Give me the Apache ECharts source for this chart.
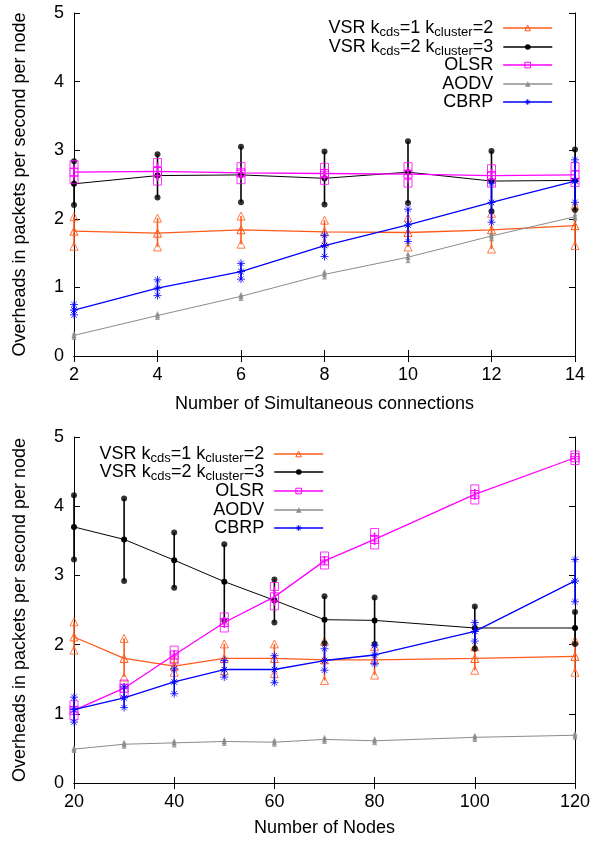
<!DOCTYPE html>
<html><head><meta charset="utf-8">
<script src="https://cdn.jsdelivr.net/npm/echarts@6/dist/echarts.min.js"></script>
<style>html,body{margin:0;padding:0;background:#fff}#c{width:595px;height:842px}</style>
</head><body><div id="c"></div>
<script>
// ---------- Data ----------
const topX = [2, 4, 6, 8, 10, 12, 14];
const topVsr1   = [1.82, 1.79, 1.84, 1.81, 1.80, 1.84, 1.90];
const topVsr1Lo = [1.60, 1.59, 1.63, 1.65, 1.59, 1.56, 1.61];
const topVsr1Hi = [2.03, 2.01, 2.04, 1.98, 2.02, 2.08, 2.19];
const topVsr2   = [2.51, 2.63, 2.64, 2.59, 2.68, 2.55, 2.56];
const topVsr2Lo = [2.20, 2.31, 2.24, 2.21, 2.23, 2.11, 2.13];
const topVsr2Hi = [2.84, 2.94, 3.05, 2.98, 3.13, 2.99, 3.01];
const topOlsr   = [2.68, 2.69, 2.67, 2.66, 2.65, 2.63, 2.64];
const topOlsrLo = [2.57, 2.55, 2.57, 2.56, 2.52, 2.52, 2.53];
const topOlsrHi = [2.79, 2.82, 2.76, 2.75, 2.76, 2.73, 2.76];
const topAodv   = [0.30, 0.59, 0.87, 1.19, 1.44, 1.75, 2.03];
const topAodvLo = [0.27, 0.56, 0.84, 1.15, 1.39, 1.71, 2.00];
const topAodvHi = [0.33, 0.62, 0.90, 1.23, 1.49, 1.79, 2.07];
const topCbrp   = [0.67, 0.99, 1.23, 1.61, 1.91, 2.24, 2.55];
const topCbrpLo = [0.60, 0.88, 1.12, 1.45, 1.67, 1.95, 2.24];
const topCbrpHi = [0.75, 1.11, 1.35, 1.76, 2.14, 2.52, 2.86];

const botX = [20, 30, 40, 50, 60, 70, 80, 100, 120];
const botVsr1   = [2.11, 1.80, 1.69, 1.80, 1.80, 1.78, 1.78, 1.80, 1.83];
const botVsr1Lo = [1.92, 1.53, 1.60, 1.62, 1.58, 1.48, 1.56, 1.63, 1.60];
const botVsr1Hi = [2.33, 2.09, 1.80, 2.01, 2.01, 2.05, 1.97, 1.97, 2.06];
const botVsr2   = [3.70, 3.52, 3.22, 2.91, 2.64, 2.36, 2.35, 2.24, 2.24];
const botVsr2Lo = [3.23, 2.92, 2.82, 2.35, 2.32, 2.02, 2.01, 1.94, 2.01];
const botVsr2Hi = [4.16, 4.11, 3.62, 3.45, 2.94, 2.70, 2.68, 2.55, 2.47];
const botOlsr   = [1.05, 1.37, 1.85, 2.32, 2.69, 3.21, 3.52, 4.17, 4.70];
const botOlsrLo = [0.97, 1.31, 1.78, 2.24, 2.56, 3.15, 3.44, 4.09, 4.66];
const botOlsrHi = [1.13, 1.43, 1.92, 2.40, 2.84, 3.28, 3.62, 4.25, 4.74];
const botAodv   = [0.49, 0.56, 0.58, 0.60, 0.59, 0.63, 0.61, 0.66, 0.69];
const botAodvLo = [0.47, 0.53, 0.55, 0.57, 0.56, 0.60, 0.58, 0.63, 0.66];
const botAodvHi = [0.51, 0.59, 0.61, 0.63, 0.62, 0.66, 0.64, 0.69, 0.72];
const botCbrp   = [1.06, 1.23, 1.46, 1.64, 1.64, 1.77, 1.85, 2.19, 2.92];
const botCbrpLo = [0.88, 1.09, 1.29, 1.53, 1.45, 1.63, 1.72, 2.05, 2.62];
const botCbrpHi = [1.24, 1.39, 1.65, 1.77, 1.84, 1.94, 1.99, 2.32, 3.23];

const seriesNames = ['VSR1', 'VSR2', 'OLSR', 'AODV', 'CBRP'];
const topXTicks = { min: 2, max: 14, interval: 2 };
const botXTicks = { min: 20, max: 120, interval: 20 };
const yTicks = { min: 0, max: 5, interval: 1 };
const xTitleTop = 'Number of Simultaneous connections';
const xTitleBot = 'Number of Nodes';
const yTitle = 'Overheads in packets per second per node';

// ---------- Styles ----------
const FONT = 'Liberation Sans, Arial, sans-serif';
const ASTER = 'path://M5,0L5,10M0,5L10,5M1.6,1.6L8.4,8.4M1.6,8.4L8.4,1.6';
const OTRI = 'path://M5,0L10,9L0,9Z';
const OSQR = 'path://M0,0L10,0L10,10L0,10Z';
const styles = {
  VSR1: { color: '#ff5a1a', symbol: OTRI, size: 8, lw: 1.3, hollow: true },
  VSR2: { color: '#000000', symbol: 'circle', size: 6, lw: 1, hollow: false },
  OLSR: { color: '#ff00ff', symbol: OSQR, size: 8, lw: 1.3, hollow: true },
  AODV: { color: '#8c8c8c', symbol: 'triangle', size: 5, lw: 1, hollow: false },
  CBRP: { color: '#0000ff', symbol: ASTER, size: 8, lw: 1.3, hollow: true }
};

function symStyleOf(st) {
  return {
    color: st.hollow ? 'rgba(255,255,255,0)' : st.color,
    borderColor: st.color,
    borderWidth: st.hollow ? 1 : 0
  };
}

function buildSeries(xs, groups, xi, yi) {
  const out = [];
  seriesNames.forEach((name, k) => {
    const st = styles[name];
    const [v, lo, hi] = groups[k];
    const symStyle = symStyleOf(st);
    out.push({
      type: 'custom', name: name + '_err', xAxisIndex: xi, yAxisIndex: yi, silent: true,
      data: xs.map((x, i) => [x, lo[i], hi[i]]),
      encode: { x: 0, y: [1, 2] },
      renderItem: (params, api) => {
        const p1 = api.coord([api.value(0), api.value(1)]);
        const p2 = api.coord([api.value(0), api.value(2)]);
        return { type: 'line', shape: { x1: p1[0], y1: p1[1], x2: p2[0], y2: p2[1] },
                 style: { stroke: st.color, lineWidth: 1.6 } };
      }, z: 2 + k
    });
    out.push({
      type: 'scatter', name: name + '_ends', xAxisIndex: xi, yAxisIndex: yi, silent: true,
      data: xs.map((x, i) => [x, lo[i]]).concat(xs.map((x, i) => [x, hi[i]])),
      symbol: st.symbol, symbolSize: st.size, itemStyle: symStyle, z: 2 + k
    });
    out.push({
      type: 'line', name: name, xAxisIndex: xi, yAxisIndex: yi, silent: true,
      data: xs.map((x, i) => [x, v[i]]),
      symbol: st.symbol, symbolSize: st.size, showSymbol: true,
      itemStyle: symStyle, lineStyle: { color: st.color, width: st.lw },
      color: st.color, z: 2 + k
    });
  });
  return out;
}

function legendLabel(name) {
  if (name === 'VSR1') return '{t|VSR k}{s|cds}{t|=1 k}{s|cluster}{t|=2 }';
  if (name === 'VSR2') return '{t|VSR k}{s|cds}{t|=2 k}{s|cluster}{t|=3 }';
  return '{t|' + name + ' }';
}

function buildLegends(rightPx, centers) {
  return seriesNames.map((name, k) => {
    const st = styles[name];
    return {
      data: [name], right: rightPx, top: centers[k] - 6, align: 'right', orient: 'vertical',
      itemWidth: 49, itemHeight: 7, itemGap: 10, selectedMode: false, padding: 0,
      itemStyle: symStyleOf(st),
      lineStyle: { color: st.color, width: st.lw + 0.4 },
      formatter: legendLabel,
      textStyle: { fontFamily: FONT, fontSize: 18, color: '#000',
        rich: { t: { fontFamily: FONT, fontSize: 18, color: '#000' },
                s: { fontFamily: FONT, fontSize: 13, color: '#000', padding: [9, 0, 0, 0] } } }
    };
  });
}

const axisLine = { show: true, lineStyle: { color: '#000', width: 1 } };
const tickIn = { show: true, inside: true, length: 6, lineStyle: { color: '#000' } };
const lab = { fontFamily: FONT, fontSize: 18, color: '#000', margin: 10 };

function xAxes(gi, t, title, gap) {
  return [
    { type: 'value', gridIndex: gi, position: 'bottom', ...t, axisLine, axisTick: tickIn,
      axisLabel: lab, splitLine: { show: false }, name: title, nameLocation: 'middle', nameGap: gap,
      nameTextStyle: { fontFamily: FONT, fontSize: 18, color: '#000' } },
    { type: 'value', gridIndex: gi, position: 'top', ...t, axisLine, axisTick: tickIn,
      axisLabel: { show: false }, splitLine: { show: false } }
  ];
}
function yAxes(gi) {
  return [
    { type: 'value', gridIndex: gi, position: 'left', ...yTicks, axisLine, axisTick: tickIn,
      axisLabel: lab, splitLine: { show: false }, name: yTitle, nameLocation: 'middle', nameGap: 45,
      nameTextStyle: { fontFamily: FONT, fontSize: 18, color: '#000' } },
    { type: 'value', gridIndex: gi, position: 'right', ...yTicks, axisLine, axisTick: tickIn,
      axisLabel: { show: false }, splitLine: { show: false } }
  ];
}

const chart = echarts.init(document.getElementById('c'), null, { renderer: 'canvas' });
chart.setOption({
  animation: false,
  backgroundColor: '#fff',
  grid: [
    { left: 74, top: 13, width: 501, height: 343 },
    { left: 74, top: 437, width: 501, height: 346 }
  ],
  xAxis: [...xAxes(0, topXTicks, xTitleTop, 39), ...xAxes(1, botXTicks, xTitleBot, 36)],
  yAxis: [...yAxes(0), ...yAxes(1)],
  legend: [...buildLegends(42, [25, 44, 62, 81, 99]), ...buildLegends(271, [451, 469, 488, 507, 525])],
  series: [
    ...buildSeries(topX, [[topVsr1, topVsr1Lo, topVsr1Hi], [topVsr2, topVsr2Lo, topVsr2Hi],
      [topOlsr, topOlsrLo, topOlsrHi], [topAodv, topAodvLo, topAodvHi], [topCbrp, topCbrpLo, topCbrpHi]], 0, 0),
    ...buildSeries(botX, [[botVsr1, botVsr1Lo, botVsr1Hi], [botVsr2, botVsr2Lo, botVsr2Hi],
      [botOlsr, botOlsrLo, botOlsrHi], [botAodv, botAodvLo, botAodvHi], [botCbrp, botCbrpLo, botCbrpHi]], 2, 2)
  ]
});
</script></body></html>
